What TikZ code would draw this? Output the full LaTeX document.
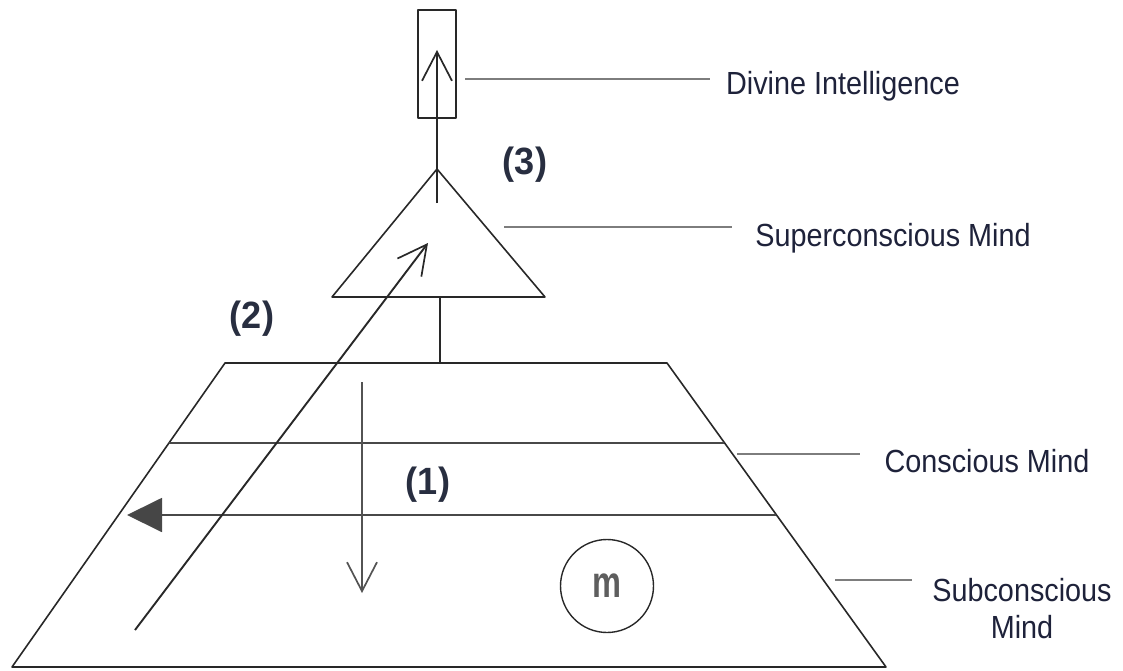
\documentclass[tikz,border=0pt]{standalone}
\usepackage{fontspec}
\setmainfont{Liberation Sans}
\newfontfamily\lblfont[FakeStretch=0.9]{Liberation Sans}
\newfontfamily\numfont[FakeStretch=0.95]{Liberation Sans}
\newfontfamily\mfont[FakeStretch=0.74]{Liberation Sans}
\usetikzlibrary{arrows.meta}
\definecolor{ink}{RGB}{40,40,40}
\definecolor{txt}{RGB}{30,34,58}
\definecolor{numtxt}{RGB}{40,46,64}
\definecolor{leader}{RGB}{125,125,125}
\definecolor{headfill}{RGB}{70,70,70}
\tikzset{
  shapeline/.style={draw=ink, line width=1.6pt},
  layerline/.style={draw=ink!85, line width=1.9pt},
  leaderline/.style={draw=leader, line width=1.3pt},
  lbl/.style={text=txt, font=\lblfont\fontsize{32}{37}\selectfont, inner sep=0pt},
  numlbl/.style={text=numtxt, font=\numfont\bfseries\fontsize{38}{44}\selectfont, inner sep=0pt},
  openhead/.style={-{Straight Barb[length=29pt,width=30pt,line width=1.7pt]}},
}
\begin{document}
\begin{tikzpicture}[x=1pt,y=-1pt,line join=round]
\useasboundingbox (0,0) rectangle (1123,671);

% trapezoid (conscious / subconscious mind)
\coordinate (tl) at (225,363);
\coordinate (tr) at (667,363);
\coordinate (br) at (886,667);
\coordinate (bl) at (12,667);
\draw[shapeline] (tl) -- (tr) -- (br) -- (bl) -- cycle;

% layer line
\coordinate (c1l) at (169,443);
\coordinate (c1r) at (724,443);
\draw[layerline] (c1l) -- (c1r);

% arrow line with filled head
\coordinate (a1r) at (776,515);
\coordinate (a1l) at (127,515);
\draw[layerline, -{Triangle[length=35pt,width=34pt,fill=headfill]}] (a1r) -- (a1l);

% triangle (superconscious mind)
\coordinate (ta) at (437,169);
\coordinate (tbl) at (332,297);
\coordinate (tbr) at (545,297);
\draw[shapeline] (ta) -- (tbr) -- (tbl) -- cycle;

% connector triangle - trapezoid
\coordinate (tbase) at (440,297);
\coordinate (ztop) at (440,363);
\draw[shapeline, line width=1.3pt] (tbase) -- (ztop);

% divine intelligence box
\node[draw=ink, line width=1.5pt, minimum width=38pt, minimum height=108pt, inner sep=0pt] (box) at (437,64) {};

% arrow (3)
\coordinate (u0) at (437,203);
\coordinate (u1) at (437,50);
\draw[draw=ink, line width=2.6pt, openhead] (u0) -- (u1);

% arrow (1)
\coordinate (d0) at (362,382);
\coordinate (d1) at (362,593);
\draw[draw=ink!80, line width=1.4pt, openhead] (d0) -- (d1);

% arrow (2)
\coordinate (g0) at (135,630);
\coordinate (g1) at (428,243);
\draw[draw=ink, line width=1.9pt, openhead] (g0) -- (g1);

% circle m
\node[draw=ink, line width=1.4pt, circle, minimum size=93pt, inner sep=0pt,
      text=ink!75, font=\mfont\bfseries\fontsize{44}{44}\selectfont] (m) at (607,586) {m};

% labels
\node[numlbl] (n1) at (428,485) {(1)};
\node[numlbl] (n2) at (252,319) {(2)};
\node[numlbl] (n3) at (525,165) {(3)};

\node[lbl, anchor=base] (ldi) at (843,95) {Divine Intelligence};
\node[lbl, anchor=base] (lsu) at (893,246) {Superconscious Mind};
\node[lbl, anchor=base] (lco) at (987,472) {Conscious Mind};
\node[lbl, anchor=center, align=center] (lsb) at (1022,609) {Subconscious\\Mind};

% leader lines
\coordinate (p1a) at (465,79);  \coordinate (p1b) at (710,79);
\coordinate (p2a) at (504,227); \coordinate (p2b) at (732,227);
\coordinate (p3a) at (737,454); \coordinate (p3b) at (860,454);
\coordinate (p4a) at (835,580); \coordinate (p4b) at (912,580);
\draw[leaderline] (p1a) -- (p1b);
\draw[leaderline] (p2a) -- (p2b);
\draw[leaderline] (p3a) -- (p3b);
\draw[leaderline] (p4a) -- (p4b);
\end{tikzpicture}
\end{document}
